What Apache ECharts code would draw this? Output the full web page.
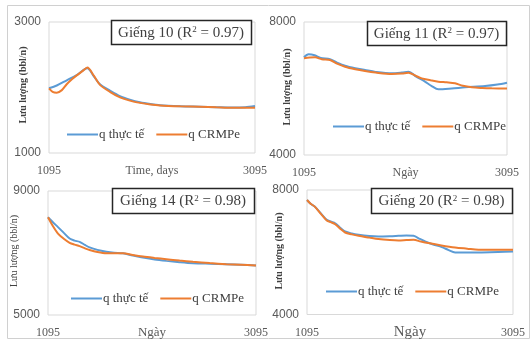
<!DOCTYPE html>
<html>
<head>
<meta charset="utf-8">
<script src="https://cdn.jsdelivr.net/npm/echarts@6/dist/echarts.min.js"></script>
<style>
  html, body { margin: 0; padding: 0; background: #fff; }
  #chart { width: 531px; height: 341px; }
</style>
</head>
<body>
<div id="chart"></div>
<script>
// tick labels
const xTicks = [1095, 3095];
const yTicks10 = [1000, 3000];
const yTicks11 = [4000, 8000];
const yTicks14 = [5000, 9000];
const yTicks20 = [4000, 8000];

// Giếng 10
const days10Actual = [1095, 1170, 1267, 1364, 1467, 1530, 1590, 1690, 1784, 1880, 1978, 2080, 2173, 2370, 2561, 2720, 2881, 3000, 3095];
const q10Actual = [1988, 2030, 2110, 2190, 2293, 2170, 2050, 1950, 1868, 1815, 1775, 1748, 1730, 1715, 1707, 1700, 1695, 1700, 1718];
const days10Crmpe = [1095, 1130, 1170, 1220, 1267, 1320, 1364, 1420, 1467, 1530, 1590, 1690, 1784, 1880, 1978, 2080, 2173, 2370, 2561, 2720, 2881, 3000, 3095];
const q10Crmpe = [1988, 1935, 1921, 1960, 2050, 2130, 2185, 2250, 2305, 2180, 2040, 1930, 1850, 1800, 1765, 1740, 1725, 1712, 1705, 1697, 1690, 1690, 1692];

// Giếng 11
const days11Actual = [1095, 1140, 1200, 1260, 1351, 1420, 1499, 1600, 1696, 1800, 1959, 2060, 2124, 2200, 2287, 2350, 2419, 2550, 2682, 2879, 3000, 3095];
const q11Actual = [6938, 7028, 7000, 6920, 6878, 6780, 6686, 6610, 6556, 6500, 6457, 6480, 6506, 6360, 6205, 6080, 5975, 6000, 6035, 6075, 6120, 6175];
const days11Crmpe = [1095, 1150, 1204, 1270, 1351, 1420, 1499, 1600, 1696, 1800, 1959, 2060, 2124, 2190, 2255, 2340, 2419, 2500, 2583, 2660, 2748, 2850, 2945, 3095];
const q11Crmpe = [6908, 6930, 6938, 6880, 6857, 6750, 6656, 6580, 6526, 6480, 6436, 6450, 6475, 6390, 6305, 6250, 6205, 6185, 6155, 6080, 6035, 6015, 6005, 6000];

// Giếng 14
const days14 = [1095, 1140, 1191, 1250, 1303, 1350, 1399, 1450, 1495, 1570, 1656, 1730, 1816, 1910, 2008, 2120, 2233, 2360, 2489, 2650, 2810, 2950, 3095];
const q14Actual = [8153, 8000, 7835, 7640, 7467, 7400, 7360, 7260, 7180, 7100, 7042, 7010, 6991, 6920, 6852, 6790, 6746, 6705, 6672, 6655, 6641, 6620, 6597];
const q14Crmpe = [8153, 7880, 7625, 7450, 7327, 7270, 7222, 7150, 7095, 7030, 6991, 6995, 6991, 6935, 6884, 6840, 6800, 6755, 6715, 6675, 6641, 6620, 6597];

// Giếng 20
const days20Actual = [1095, 1130, 1170, 1230, 1287, 1330, 1368, 1420, 1465, 1530, 1595, 1700, 1789, 1900, 1983, 2060, 2129, 2190, 2242, 2320, 2404, 2470, 2533, 2650, 2792, 2950, 3095];
const q20Actual = [7680, 7560, 7467, 7250, 7040, 6980, 6933, 6780, 6666, 6600, 6560, 6520, 6506, 6515, 6528, 6540, 6528, 6430, 6346, 6250, 6166, 6070, 5994, 5990, 5994, 6010, 6026];
const days20Crmpe = [1095, 1130, 1170, 1230, 1287, 1330, 1368, 1420, 1465, 1530, 1595, 1700, 1789, 1900, 1983, 2060, 2129, 2200, 2274, 2400, 2533, 2650, 2760, 2900, 3095];
const q20Crmpe = [7680, 7560, 7467, 7230, 7020, 6960, 6900, 6750, 6634, 6575, 6528, 6470, 6422, 6390, 6378, 6390, 6400, 6345, 6294, 6220, 6154, 6115, 6080, 6080, 6080];

const BLUE = '#5b9bd5';
const ORANGE = '#ed7d31';
const SERIF = '"Liberation Serif", "DejaVu Serif", serif';
const SANS = '"Liberation Sans Narrow", "Liberation Sans", sans-serif';
const Y_NAME = 'Lưu lượng (bbl/n)';

const pair = (xs, ys) => xs.map((x, i) => [x, ys[i]]);

// yName: [x, y] centre of the rotated y-axis title
const panels = [
  { grid: { left: 49, top: 22, width: 206, height: 131 }, yTicks: yTicks10, xName: 'Time, days', xNameSize: 12,
    actual: pair(days10Actual, q10Actual), crmpe: pair(days10Crmpe, q10Crmpe), yName: [23, 85],
    box: [111, 20, 140, 24], title: ['10', '0.97'], legend: [62, 123], yBold: 'bold' },
  { grid: { left: 304, top: 22, width: 203, height: 133 }, yTicks: yTicks11, xName: 'Ngày', xNameSize: 12,
    actual: pair(days11Actual, q11Actual), crmpe: pair(days11Crmpe, q11Crmpe), yName: [287, 87],
    box: [367, 21, 139, 24], title: ['11', '0.97'], legend: [328, 115], yBold: 'bold' },
  { grid: { left: 48, top: 191, width: 208, height: 124 }, yTicks: yTicks14, xName: 'Ngày', xNameSize: 13,
    actual: pair(days14, q14Actual), crmpe: pair(days14, q14Crmpe), yName: [14, 251],
    box: [112, 188, 142, 25], title: ['14', '0.98'], legend: [66, 287], yBold: 'normal' },
  { grid: { left: 307, top: 190, width: 206, height: 125 }, yTicks: yTicks20, xName: 'Ngày', xNameSize: 15,
    actual: pair(days20Actual, q20Actual), crmpe: pair(days20Crmpe, q20Crmpe), yName: [279, 251],
    box: [371, 188, 141, 25], title: ['20', '0.98'], legend: [321, 280], yBold: 'bold' }
];

const chart = echarts.init(document.getElementById('chart'));

const grids = [], xAxes = [], yAxes = [], series = [], legends = [], graphics = [];

graphics.push({
  type: 'rect', shape: { x: 7.5, y: 5.5, width: 522, height: 333 },
  style: { fill: 'none', stroke: '#d0d0d0', lineWidth: 1 }, silent: true
});

panels.forEach((p, i) => {
  grids.push(Object.assign({ show: true, borderColor: '#d9d9d9', borderWidth: 1, backgroundColor: '#fff' }, p.grid));
  xAxes.push({
    type: 'value', gridIndex: i, min: xTicks[0], max: xTicks[1],
    name: p.xName, nameLocation: 'middle', nameGap: 18 - p.xNameSize / 2, nameMoveOverlap: false,
    nameTextStyle: { fontFamily: SERIF, fontSize: p.xNameSize, color: '#595959' },
    axisLine: { show: false }, axisTick: { show: false }, splitLine: { show: false },
    axisLabel: { customValues: xTicks, formatter: v => String(v), fontFamily: SERIF, fontSize: 12, color: '#595959', margin: 12 }
  });
  yAxes.push({
    type: 'value', gridIndex: i, min: p.yTicks[0], max: p.yTicks[1],
    axisLine: { show: false }, axisTick: { show: false }, splitLine: { show: false },
    axisLabel: { customValues: p.yTicks, formatter: v => String(v), fontFamily: SANS, fontSize: 12, color: '#595959', margin: 8 }
  });
  series.push({
    name: 'q thực tế', type: 'line', xAxisIndex: i, yAxisIndex: i, data: p.actual,
    showSymbol: false, symbol: 'none', smooth: 0.3, lineStyle: { color: BLUE, width: 2 }, itemStyle: { color: BLUE }
  });
  series.push({
    name: 'q CRMPe', type: 'line', xAxisIndex: i, yAxisIndex: i, data: p.crmpe,
    showSymbol: false, symbol: 'none', smooth: 0.3, lineStyle: { color: ORANGE, width: 2 }, itemStyle: { color: ORANGE }
  });
  legends.push({
    left: p.legend[0], top: p.legend[1], selectedMode: false,
    data: ['q thực tế', 'q CRMPe'], icon: 'rect', itemWidth: 31, itemHeight: 2, itemGap: 12,
    textStyle: { fontFamily: SERIF, fontSize: 13, color: '#404040', padding: [0, 0, 0, -4] }
  });
  graphics.push({
    type: 'text', x: p.yName[0], y: p.yName[1], rotation: Math.PI / 2, z: 50,
    style: {
      text: Y_NAME, align: 'center', verticalAlign: 'middle',
      font: p.yBold + ' 10px ' + SERIF, fill: '#404040'
    }
  });
  const [bx, by, bw, bh] = p.box;
  graphics.push({
    type: 'rect', shape: { x: bx + 0.5, y: by + 0.5, width: bw, height: bh },
    style: { fill: '#fff', stroke: '#262626', lineWidth: 1.5 }, z: 100
  });
  graphics.push({
    type: 'text', x: bx + bw / 2, y: by + bh / 2 + 1, z: 101,
    style: {
      text: '{a|Giếng ' + p.title[0] + ' (R}{s|2}{a| = ' + p.title[1] + ')}',
      align: 'center', verticalAlign: 'middle',
      rich: {
        a: { fontFamily: SERIF, fontSize: 15, fill: '#404040', verticalAlign: 'middle' },
        s: { fontFamily: SERIF, fontSize: 9, fill: '#404040', verticalAlign: 'top', padding: [0, 0, 6, 0] }
      }
    }
  });
});

chart.setOption({
  animation: false,
  grid: grids,
  xAxis: xAxes,
  yAxis: yAxes,
  legend: legends,
  series: series,
  graphic: graphics
});

window.addEventListener('resize', () => chart.resize());
</script>
</body>
</html>
